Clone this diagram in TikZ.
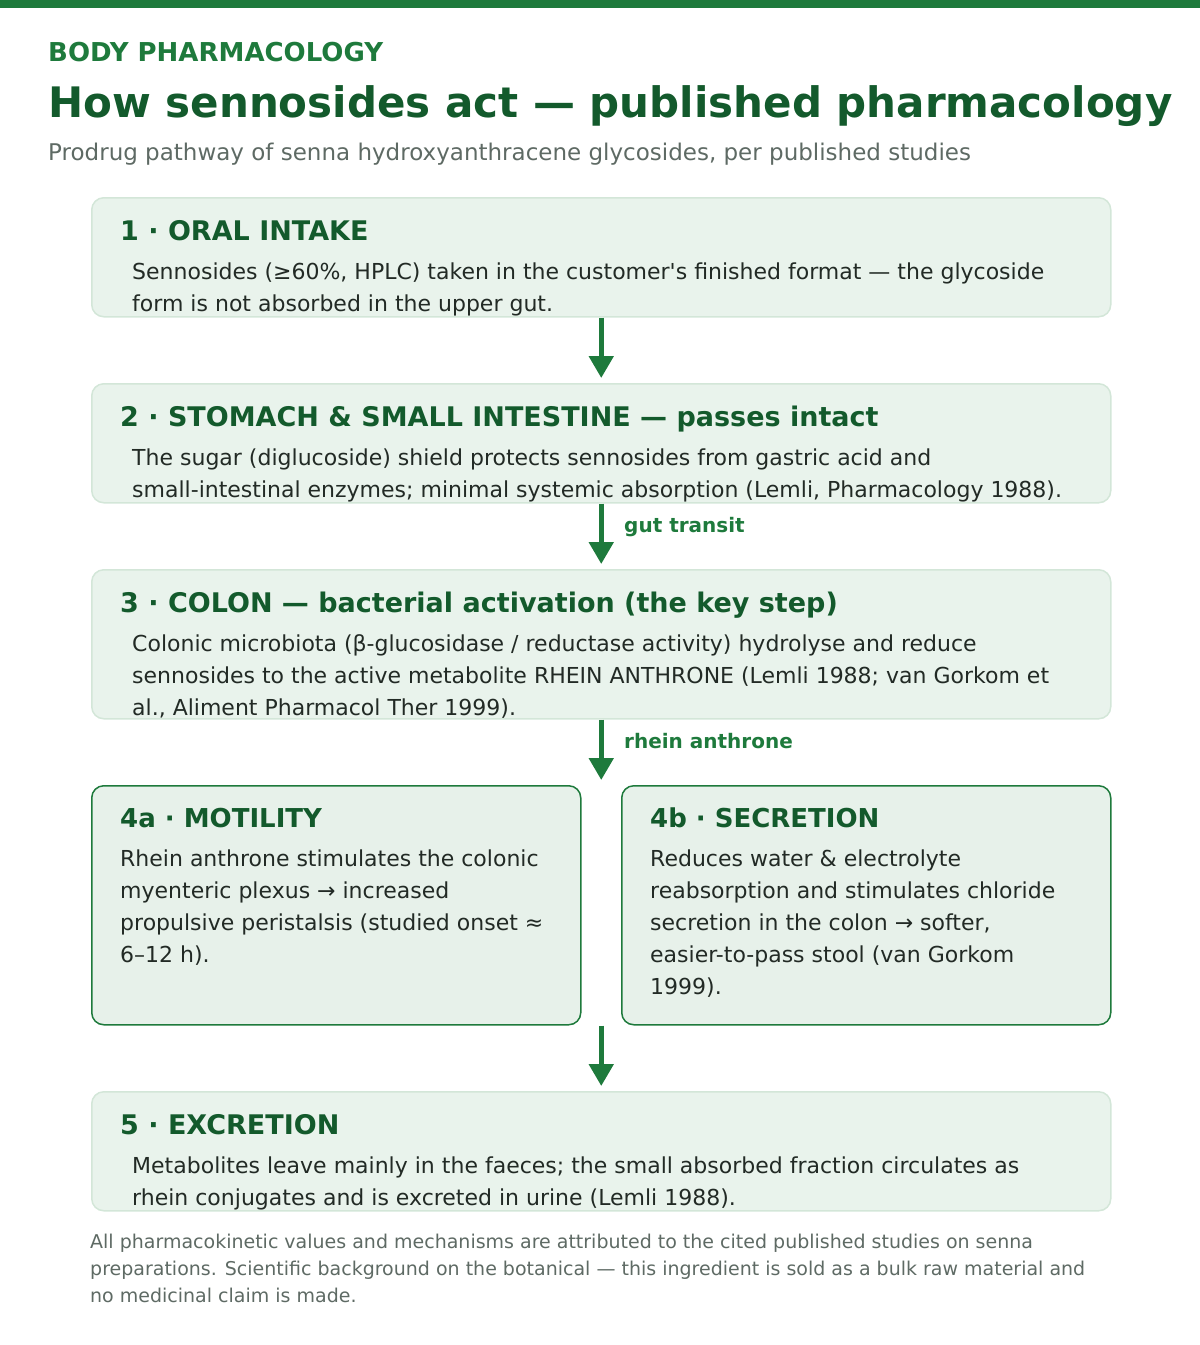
\documentclass[tikz,border=0pt]{standalone}
\usepackage{fontspec}
\setmainfont{DejaVu Sans}
\newfontfamily\dv{DejaVu Sans}
\usetikzlibrary{arrows.meta}
\definecolor{topbar}{HTML}{1E7A3C}
\definecolor{kick}{HTML}{1E7A3C}
\definecolor{titlec}{HTML}{135A2C}
\definecolor{subc}{HTML}{5E6A64}
\definecolor{boxfill}{HTML}{E9F3EC}
\definecolor{boxline}{HTML}{D3E6D8}
\definecolor{boxfillb}{HTML}{E7F1EA}
\definecolor{boxlineb}{HTML}{1E7A3C}
\definecolor{headc}{HTML}{135A2C}
\definecolor{bodyc}{HTML}{222A25}
\definecolor{arrc}{HTML}{1E7A3C}
\begin{document}
\begin{tikzpicture}[x=1pt,y=-1pt,
  stage/.style={draw=boxline, fill=boxfill, rounded corners=12pt, line width=1.5pt,
    minimum width=1019pt, anchor=north west, inner sep=0pt},
  branch/.style={draw=boxlineb, fill=boxfillb, rounded corners=12pt, line width=1.5pt,
    minimum width=489pt, minimum height=239pt, anchor=north west, inner sep=0pt},
  hd/.style={anchor=base west, inner sep=0pt, font=\dv\bfseries\fontsize{27}{30}\selectfont, text=headc},
  hdb/.style={hd, font=\dv\bfseries\fontsize{26}{30}\selectfont},
  bd/.style={anchor=base west, inner sep=0pt, align=left, font=\dv\fontsize{22}{32}\selectfont, text=bodyc},
  lbl/.style={anchor=base west, inner sep=0pt, font=\dv\bfseries\fontsize{20}{22}\selectfont, text=kick},
  arr/.style={draw=arrc, line width=5pt, -{Triangle[width=24pt,length=22pt]}, shorten >=5pt}
]
\useasboundingbox (0,0) rectangle (1200,1345);
\fill[topbar] (0,0) rectangle (1200,8);

\node[anchor=base west, inner sep=0pt, font=\dv\bfseries\fontsize{26}{28}\selectfont, text=kick] (kicker) at (48,61) {BODY PHARMACOLOGY};
\node[anchor=base west, inner sep=0pt, font=\dv\bfseries\fontsize{42}{48}\selectfont, text=titlec] (title) at (48,117) {How sennosides act — published pharmacology};
\node[anchor=base west, inner sep=0pt, font=\dv\fontsize{23}{26}\selectfont, text=subc] (sub) at (48,160) {Prodrug pathway of senna hydroxyanthracene glycosides, per published studies};

% Stage 1
\node[stage, minimum height=119pt] (b1) at (91,197) {};
\node[hd] (h1) at (120,240) {1 · ORAL INTAKE};
\node[bd] (t1) at (132,311) {Sennosides (≥60\%, HPLC) taken in the customer's finished format — the glycoside\\form is not absorbed in the upper gut.};

% Stage 2
\node[stage, minimum height=119pt] (b2) at (91,383) {};
\node[hd] (h2) at (120,426) {2 · STOMACH \& SMALL INTESTINE — passes intact};
\node[bd] (t2) at (132,497) {The sugar (diglucoside) shield protects sennosides from gastric acid and\\small-intestinal enzymes; minimal systemic absorption (Lemli, Pharmacology 1988).};

% Stage 3
\node[stage, minimum height=149pt] (b3) at (91,569) {};
\node[hd] (h3) at (120,612) {3 · COLON — bacterial activation (the key step)};
\node[bd] (t3) at (132,715) {Colonic microbiota (β-glucosidase / reductase activity) hydrolyse and reduce\\sennosides to the active metabolite RHEIN ANTHRONE (Lemli 1988; van Gorkom et\\al., Aliment Pharmacol Ther 1999).};

% Stage 4
\node[branch] (b4a) at (91,785) {};
\node[hdb] (h4a) at (120,827) {4a · MOTILITY};
\node[bd] (t4a) at (120,962) {Rhein anthrone stimulates the colonic\\myenteric plexus → increased\\propulsive peristalsis (studied onset ≈\\6–12 h).};
\node[branch] (b4b) at (621,785) {};
\node[hdb] (h4b) at (650,827) {4b · SECRETION};
\node[bd] (t4b) at (650,994) {Reduces water \& electrolyte\\reabsorption and stimulates chloride\\secretion in the colon → softer,\\easier-to-pass stool (van Gorkom\\1999).};

% Stage 5
\node[stage, minimum height=119pt] (b5) at (91,1091) {};
\node[hd] (h5) at (120,1134) {5 · EXCRETION};
\node[bd] (t5) at (132,1205) {Metabolites leave mainly in the faeces; the small absorbed fraction circulates as\\rhein conjugates and is excreted in urine (Lemli 1988).};

% Footer
\node[anchor=base west, inner sep=0pt, align=left, font=\dv\fontsize{19}{27}\selectfont, text=subc] (foot) at (90,1302) {All pharmacokinetic values and mechanisms are attributed to the cited published studies on senna\\preparations. Scientific background on the botanical — this ingredient is sold as a bulk raw material and\\no medicinal claim is made.};

% Connectors
\coordinate (m3) at (b4a.north east -| b3.south);
\coordinate (m4) at (b4a.south east -| b5.north);
\draw[arr] (b1.south) -- (b2.north);
\draw[arr] (b2.south) -- (b3.north);
\draw[arr] (b3.south) -- (m3);
\draw[arr] (m4) -- (b5.north);
\node[lbl] (l2) at (624,532) {gut transit};
\node[lbl] (l3) at (624,748) {rhein anthrone};
\end{tikzpicture}
\end{document}
